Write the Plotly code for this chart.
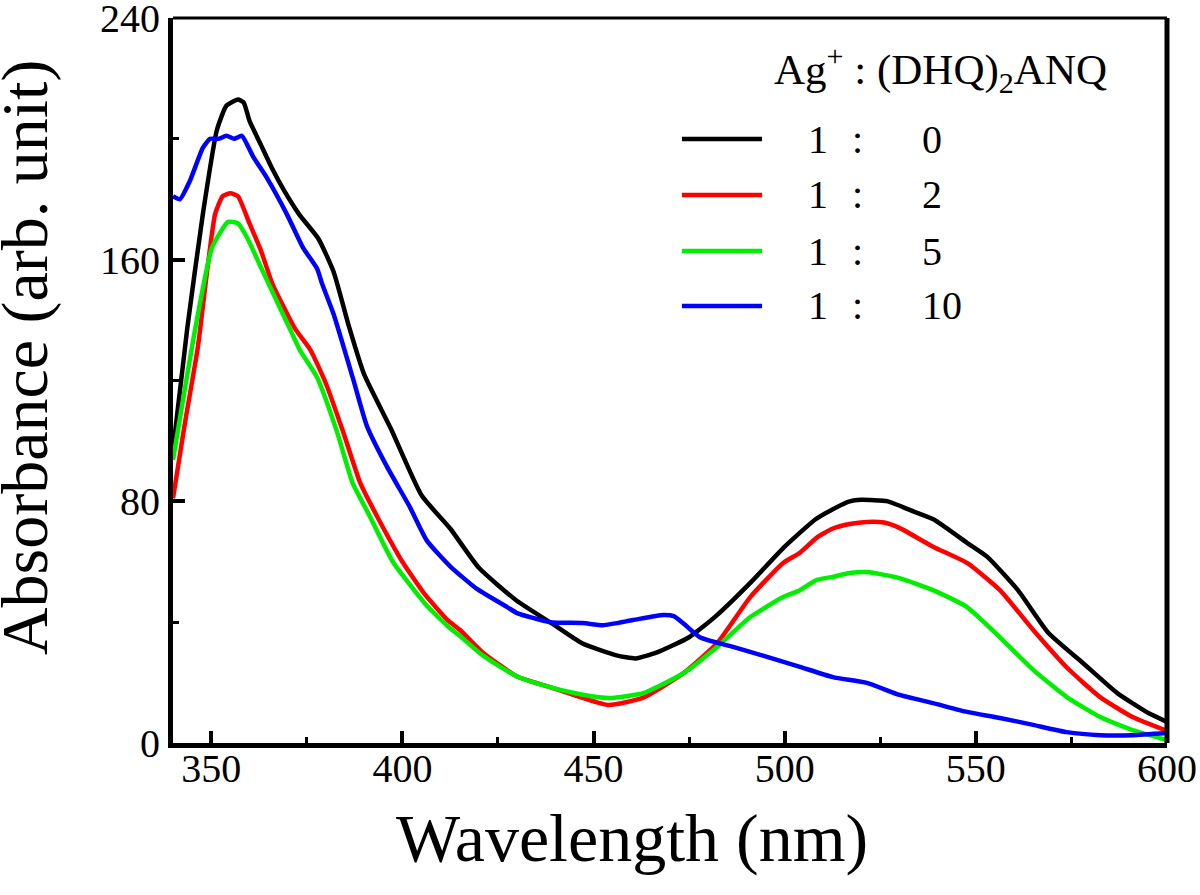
import plotly.graph_objects as go

# Ag+ : (DHQ)2ANQ absorption spectra
wl_1_0 = [340, 343.7, 347.8, 351.5, 354, 357, 358.5, 360, 363, 366, 369, 373, 378, 382,
          386, 390, 397, 405, 412.5, 420, 430, 438.6, 447, 456, 461, 466.6, 475, 482,
          491, 500, 508, 512, 517, 520, 527, 533, 539, 548, 553, 561, 569, 578, 587, 595, 600]
abs_1_0 = [97, 137, 175, 203, 211, 213, 212, 206, 198, 190, 183, 175, 167, 156,
           138, 122, 104, 82, 71, 58, 47, 40, 33, 29, 28, 30, 35, 42,
           53, 65, 74, 77, 80, 80.5, 80, 77, 74, 66, 61.6, 50.6, 36.4, 26.5, 16.5, 10, 7]

wl_1_2 = [340, 343, 346.5, 349, 351, 353, 355, 357, 360, 363, 366, 369.5, 372, 376, 380,
          384.5, 389, 393.4, 400, 406, 412, 415, 421, 430, 438.6, 447, 454, 463, 473.4,
          482.3, 491, 499.6, 504, 508.4, 512.6, 517, 521.5, 526, 530, 538.8, 547.7,
          556.3, 565, 573.8, 582.5, 591, 600]
abs_1_2 = [81, 105, 131, 157, 175, 181, 182, 181, 172, 163, 152, 143, 137, 130, 119,
           103, 86, 75, 60, 49, 40.5, 37.5, 30, 22, 18.5, 15, 12.6, 15, 23,
           33, 48.3, 59.6, 63, 68, 71, 72.5, 73.2, 73, 71.2, 65, 59.6,
           50.6, 37.4, 25, 15.2, 8.6, 4]

wl_1_5 = [340, 345.8, 350.2, 354.4, 357, 359.5, 362.8, 366.5, 370.6, 373.2, 377.7, 382.9,
          387, 391.5, 397.5, 406, 412, 415, 421, 430, 438.6, 447.2, 454.3, 463, 473.4,
          482.3, 491, 499.6, 504, 508.4, 512.6, 517, 521.5, 530, 538.8, 547.7, 556.3,
          565, 573.8, 582.5, 591, 600]
abs_1_5 = [93.7, 137, 164, 172.5, 172, 167, 158, 148, 137, 130, 121, 103,
           86, 75, 60, 46, 38.5, 35.5, 29, 22, 18.5, 16, 14.9, 16.5, 23,
           31.8, 41.7, 48.3, 50.6, 54, 55, 56.3, 56.6, 54.6, 50.6, 45, 35,
           24.2, 15.2, 8.6, 4.3, 1]

wl_1_10 = [340, 341.8, 344.4, 347.8, 349.7, 352, 354, 356, 358, 361, 364.6, 369.8, 374,
           377.7, 379, 382, 387, 390.7, 396, 402, 406.4, 412.5, 419.5, 427.4, 430,
           438.6, 447.2, 452.5, 460.3, 468.2, 471, 473.4, 477.8, 486.5, 495.4, 504,
           512.6, 521.5, 530, 538.8, 547.7, 556.3, 565, 573.8, 582.5, 591, 600]
abs_1_10 = [181, 180, 186, 197, 200, 200, 201, 200, 201, 194, 187, 175, 164,
            157, 152, 142, 121, 105, 91.4, 78, 67, 58.5, 51, 45, 43,
            40, 39.7, 39, 40.7, 42.4, 42, 39.7, 35, 31.8, 28.5, 25.2,
            21.8, 19.9, 15.9, 13.2, 10.3, 8.3, 6, 3.6, 2.6, 2.6, 3.3]

ratios = ['0', '2', '5', '10']
colors = ['#000000', '#ff0000', '#00ee00', '#0000ff']
series = [(wl_1_0, abs_1_0), (wl_1_2, abs_1_2), (wl_1_5, abs_1_5), (wl_1_10, abs_1_10)]

FONT = 'Liberation Serif, Times New Roman, serif'

fig = go.Figure()
for (wl, ab), r, c in zip(series, ratios, colors):
    fig.add_trace(go.Scatter(x=wl, y=ab, mode='lines', name='1 : ' + r,
                             line=dict(color=c, width=4.5, shape='spline', smoothing=0.5),
                             showlegend=False))

fig.update_layout(
    width=1200, height=895,
    margin=dict(l=173, r=33, t=18, b=152),
    plot_bgcolor='white', paper_bgcolor='white',
    font=dict(family=FONT, color='black', size=40),
)
fig.update_xaxes(range=[340, 600], tickvals=[350, 400, 450, 500, 550, 600],
                 showline=True, linewidth=5, linecolor='black', mirror=False,
                 ticks='inside', ticklen=12, tickwidth=4, tickcolor='black',
                 minor=dict(ticks='inside', ticklen=6, tickwidth=3, tickcolor='black',
                            tickvals=[375, 425, 475, 525, 575]),
                 showgrid=False, zeroline=False, tickfont=dict(size=40),
                 ticklabelstandoff=-14, ticklabeloverflow='allow', automargin=False)
fig.update_yaxes(range=[0, 240], tickvals=[0, 80, 160, 240],
                 showline=True, linewidth=5, linecolor='black', mirror=False,
                 ticks='inside', ticklen=12, tickwidth=4, tickcolor='black',
                 minor=dict(ticks='inside', ticklen=6, tickwidth=3, tickcolor='black',
                            tickvals=[40, 120, 200]),
                 showgrid=False, zeroline=False, tickfont=dict(size=40),
                 ticklabelstandoff=0, ticklabeloverflow='allow', automargin=False)

# frame: thin top, thick right
fig.add_shape(type='line', xref='paper', yref='paper', x0=0, x1=1, y0=1, y1=1,
              line=dict(color='black', width=3))
fig.add_shape(type='line', xref='paper', yref='paper', x0=1, x1=1, y0=0, y1=1,
              line=dict(color='black', width=5))

# axis titles
fig.add_annotation(text='Wavelength (nm)', xref='paper', yref='paper', x=0.462, y=-0.131,
                   xanchor='center', yanchor='middle', showarrow=False, font=dict(size=68))
fig.add_annotation(text='Absorbance (arb. unit)', xref='paper', yref='paper', x=-0.149, y=0.532,
                   xanchor='center', yanchor='middle', textangle=-90, showarrow=False,
                   font=dict(size=66))

# legend drawn by hand
fig.add_annotation(text='Ag<sup>+</sup>&nbsp;: (DHQ)<sub>2</sub>ANQ', xref='paper', yref='paper',
                   x=0.6026, y=0.9283, xanchor='left', yanchor='middle', showarrow=False,
                   font=dict(size=43))
row_y = [0.8331, 0.7559, 0.6786, 0.6028]
for r, c, yy in zip(ratios, colors, row_y):
    fig.add_shape(type='line', xref='paper', yref='paper', x0=0.512, x1=0.5926, y0=yy, y1=yy,
                  line=dict(color=c, width=4.5))
    fig.add_annotation(text='1', xref='paper', yref='paper', x=0.6489, y=yy,
                       xanchor='center', yanchor='middle', showarrow=False, font=dict(size=40))
    fig.add_annotation(text=':', xref='paper', yref='paper', x=0.6891, y=yy,
                       xanchor='center', yanchor='middle', showarrow=False, font=dict(size=40))
    fig.add_annotation(text=r, xref='paper', yref='paper', x=0.7515, y=yy,
                       xanchor='left', yanchor='middle', showarrow=False, font=dict(size=40))

fig.write_html('out.html', config={'displayModeBar': False},
               post_script="document.body.style.margin='0px';")
